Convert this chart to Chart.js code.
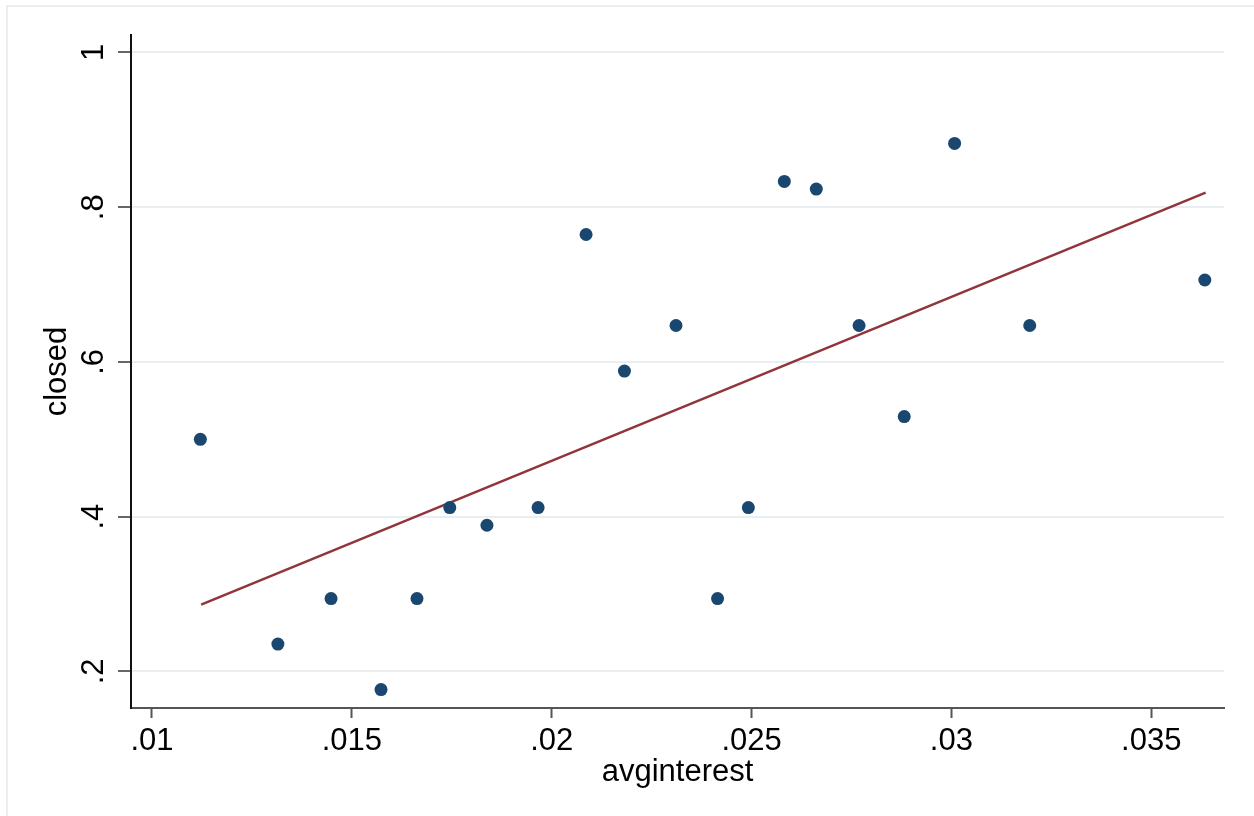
<!DOCTYPE html>
<html>
<head>
<meta charset="utf-8">
<script src="https://cdn.jsdelivr.net/npm/chart.js@4.4.1/dist/chart.umd.min.js"></script>
<style>
  html, body { margin: 0; padding: 0; background: #ffffff; }
  #wrap { width: 1254px; height: 816px; position: relative; }
</style>
</head>
<body>
<div id="wrap"><canvas id="c" width="1254" height="816"></canvas></div>
<script>
// ---- data ----
const avgInterest = [0.01121, 0.01315, 0.01448, 0.01573, 0.01663, 0.01745, 0.01838, 0.01966, 0.02086, 0.02182,
                     0.02311, 0.02415, 0.02492, 0.02582, 0.02662, 0.02769, 0.02882, 0.03008, 0.03196, 0.03634];
const closed =      [0.5000, 0.2353, 0.2941, 0.1765, 0.2941, 0.4118, 0.3889, 0.4118, 0.7647, 0.5882,
                     0.6471, 0.2941, 0.4118, 0.8333, 0.8235, 0.6471, 0.5294, 0.8824, 0.6471, 0.7059];
const fitX = [0.01123, 0.03636];
const fitY = [0.2862, 0.8189];
const xTickVals = [0.01, 0.015, 0.02, 0.025, 0.03, 0.035];
const xTickLabels = ['.01', '.015', '.02', '.025', '.03', '.035'];
const yTickVals = [0.2, 0.4, 0.6, 0.8, 1];
const yTickLabels = ['.2', '.4', '.6', '.8', '1'];
const xTitle = 'avginterest';
const yTitle = 'closed';

const FONT = "'Liberation Sans', Arial, sans-serif";

const framePlugin = {
  id: 'frame',
  beforeDraw(chart) {
    const ctx = chart.ctx;
    ctx.save();
    ctx.fillStyle = '#ffffff';
    ctx.fillRect(0, 0, chart.width, chart.height);
    ctx.strokeStyle = '#e8eef2';
    ctx.lineWidth = 2;
    ctx.beginPath();
    ctx.moveTo(7, chart.height + 2);
    ctx.lineTo(7, 6);
    ctx.lineTo(chart.width + 2, 6);
    ctx.stroke();
    ctx.restore();
  }
};

const yLabelPlugin = {
  id: 'yLabels',
  afterDraw(chart) {
    const ys = chart.scales.y;
    const ctx = chart.ctx;
    ctx.save();
    ctx.fillStyle = '#000000';
    ctx.font = '31px ' + FONT;
    ctx.textAlign = 'center';
    ctx.textBaseline = 'alphabetic';
    yTickVals.forEach((v, i) => {
      const py = ys.getPixelForValue(v);
      ctx.save();
      ctx.translate(103, py);
      ctx.rotate(-Math.PI / 2);
      ctx.fillText(yTickLabels[i], 0, 0);
      ctx.restore();
    });
    ctx.restore();
  }
};

const data = {
  datasets: [
    {
      label: 'closed',
      data: avgInterest.map((x, i) => ({ x: x, y: closed[i] })),
      pointRadius: 6.5,
      pointHoverRadius: 6.5,
      backgroundColor: '#1a476f',
      borderColor: '#1a476f',
      borderWidth: 0,
      showLine: false,
      order: 1
    },
    {
      label: 'Fitted values',
      data: fitX.map((x, i) => ({ x: x, y: fitY[i] })),
      showLine: true,
      pointRadius: 0,
      borderColor: '#90353b',
      borderWidth: 2.5,
      fill: false,
      order: 2
    }
  ]
};

new Chart(document.getElementById('c'), {
  type: 'scatter',
  data: data,
  plugins: [framePlugin, yLabelPlugin],
  options: {
    responsive: false,
    animation: false,
    devicePixelRatio: 1,
    layout: { padding: { left: 0, top: 35, right: 30, bottom: 0 } },
    plugins: { legend: { display: false }, tooltip: { enabled: false } },
    scales: {
      x: {
        type: 'linear',
        position: 'bottom',
        min: 0.009475,
        max: 0.03682,
        afterBuildTicks(scale) { scale.ticks = xTickVals.map(v => ({ value: v })); },
        afterFit(scale) { scale.height = 108; },
        ticks: {
          autoSkip: false,
          maxRotation: 0,
          minRotation: 0,
          padding: 5,
          color: '#000000',
          font: { family: FONT, size: 31 },
          callback: (v, i) => xTickLabels[i]
        },
        grid: {
          drawOnChartArea: false,
          drawTicks: true,
          tickLength: 10,
          tickColor: '#555555',
          tickWidth: 2
        },
        border: { display: true, color: '#555555', width: 2 },
        title: {
          display: true,
          text: xTitle,
          color: '#000000',
          font: { family: FONT, size: 31 },
          padding: { top: 0, bottom: 25 }
        }
      },
      y: {
        type: 'linear',
        position: 'left',
        min: 0.1527,
        max: 1.0226,
        afterBuildTicks(scale) { scale.ticks = yTickVals.map(v => ({ value: v })); },
        afterFit(scale) { scale.width = 131; },
        ticks: { display: false },
        grid: {
          drawOnChartArea: true,
          color: '#e8eef2',
          lineWidth: 2,
          drawTicks: true,
          tickLength: 13,
          tickColor: '#333333',
          tickWidth: 1.5
        },
        border: { display: true, color: '#111111', width: 2 },
        title: {
          display: true,
          text: yTitle,
          color: '#000000',
          font: { family: FONT, size: 31 },
          padding: { top: 39, bottom: 0 }
        }
      }
    }
  }
});
</script>
</body>
</html>
